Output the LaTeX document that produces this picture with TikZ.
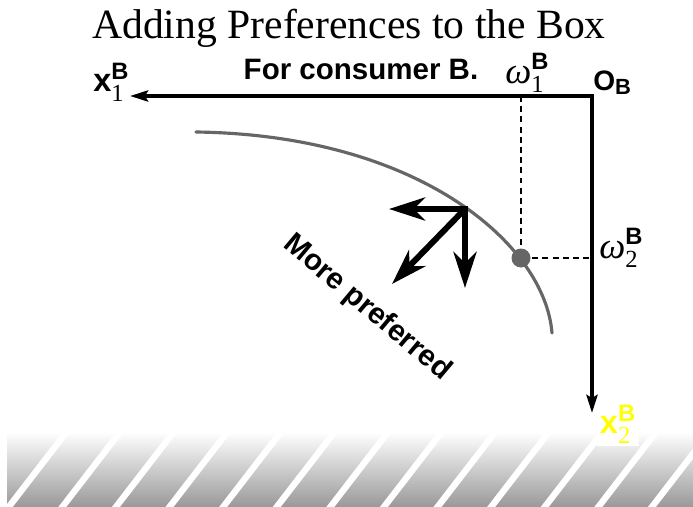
\documentclass[tikz,border=0pt]{standalone}
\usepackage{amsmath}
\usepackage{fontspec}
\setmainfont{Liberation Serif}
\setsansfont{Liberation Sans}
\usetikzlibrary{arrows.meta}
\definecolor{curvegray}{HTML}{666666}
\definecolor{bandgray}{HTML}{999999}
\definecolor{labelyellow}{HTML}{FFFF00}
\newcommand{\axlbl}[3]{{#1}$_{\hbox{\normalfont\fontsize{14}{14}\selectfont #2}}^{\hbox{\normalfont\fontsize{13.5}{14}\selectfont\sffamily\bfseries #3}}$}

\begin{document}
\begin{tikzpicture}[x=0.02cm, y=-0.02cm,
		axistip/.tip={Stealth[length=0.36cm, width=0.22cm, inset=0.06cm]},
		preftip/.tip={Stealth[length=0.72cm, width=0.46cm, inset=0.22cm]},
		axis/.style={line width=2.1pt, axistip-axistip},
		prefarrow/.style={line width=3.4pt},
		guide/.style={line width=0.9pt, dash pattern=on 3.4pt off 2.4pt},
		lbl/.style={inner sep=0pt, anchor=base west, font=\fontsize{18.5}{20}\selectfont},
		boldsans/.style={font=\sffamily\bfseries\fontsize{16.8}{20}\selectfont}]
	\useasboundingbox (0,0) rectangle (693,507);
	% shaded floor
	\shade[top color=white, bottom color=bandgray] (7,432) rectangle (693,507);
	\begin{scope}
		\clip (7,432) rectangle (693,507);
		\foreach \k in {0,...,13}
			\draw[white, line width=0.127cm] ({1+53.6*\k},517) -- ++(74,-96);
	\end{scope}
	\node[anchor=base, font=\fontsize{23.7}{28}\selectfont] (title) at (349,38) {Adding Preferences to the Box};
	\node[anchor=base, boldsans] (forB) at (361,79) {For consumer B.};
	\coordinate (OB) at (592,96);
	\coordinate (x1end) at (130,96);
	\coordinate (x2end) at (592,413);
	\coordinate (E) at (521,258);
	\coordinate (w1foot) at (521,96);
	\coordinate (w2foot) at (592,258);
	\draw[guide] (w1foot) -- (E) -- (w2foot);
	\draw[axis] (x1end) -- (OB) -- (x2end);
	\draw[curvegray, line width=1.8pt, line cap=round] (196,132) .. controls (420,135) and (545,245) .. (552,333);
	\node[circle, fill=curvegray, minimum size=0.38cm, inner sep=0pt] (endow) at (E) {};
	\node[lbl] (x1lbl) at (93,91) {\axlbl{\sffamily\bfseries x}{1}{B}};
	\node[lbl, font=\fontsize{21}{22}\selectfont] (w1lbl) at (505,83) {\axlbl{\itshape ω}{1}{B}};
	\node[lbl, font=\sffamily\bfseries\fontsize{16}{18}\selectfont] (OBlbl) at (593,90) {O$_{\hbox{\fontsize{12.5}{13}\selectfont B}}$};
	\node[lbl, font=\fontsize{21}{22}\selectfont] (w2lbl) at (599,258) {\axlbl{\itshape ω}{2}{B}};
	\node[lbl, text=labelyellow, fill=white, inner sep=1.5pt] (x2lbl) at (597,433) {\axlbl{\sffamily\bfseries x}{2}{B}};
	% preference directions
	\coordinate (P) at (465,209);
	\coordinate (Pleft) at (389,209);
	\coordinate (Pdown) at (465,288);
	\coordinate (Pdiag) at (392,284);
	\draw[prefarrow, preftip-preftip] (Pleft) -- (P) -- (Pdown);
	\draw[prefarrow, -preftip] (P) -- (Pdiag);
	\node[boldsans, rotate=-40] (more) at (367,308) {More preferred};
\end{tikzpicture}
\end{document}
